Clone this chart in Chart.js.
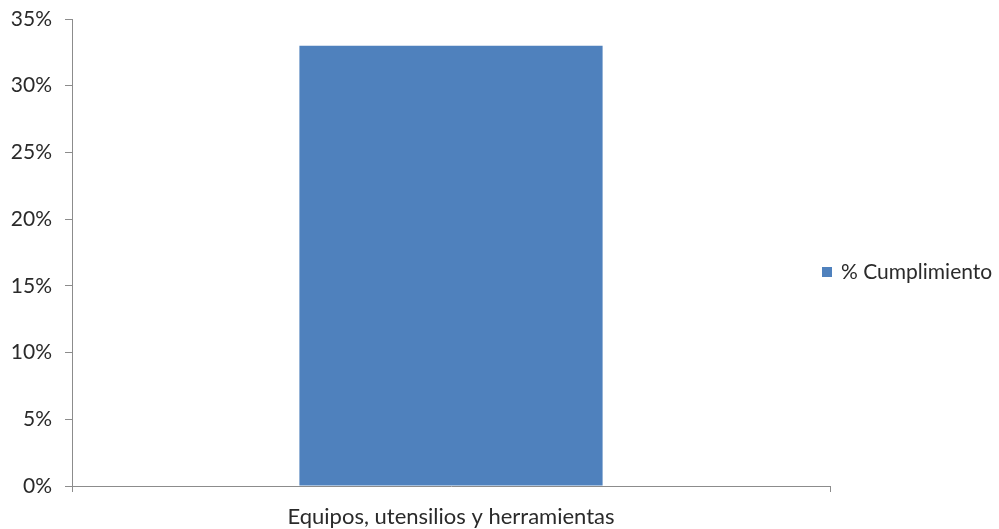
<!DOCTYPE html>
<html>
<head>
<meta charset="utf-8">
<script src="https://cdn.jsdelivr.net/npm/chart.js@4"></script>
<style>
    html, body { margin: 0; padding: 0; background: #ffffff; }
    #wrap { width: 999px; height: 529px; }
</style>
</head>
<body>
<div id="wrap"><canvas id="chart" width="999" height="529"></canvas></div>
<script>
// ======================================================
// Data
// ======================================================

const categories = ["Equipos, utensilios y herramientas"];

const seriesName = "% Cumplimiento";

const complianceValues = [33];

const yTicks = [0, 5, 10, 15, 20, 25, 30, 35];

// ======================================================
// Style
// ======================================================

const barColor = "#4F81BD";
const axisColor = "#8c8c8c";
const textColor = "#2a2a2a";
const fontFamily = "Lato, 'Open Sans', sans-serif";
const fontSize = 21;

// ======================================================
// Legend drawn to the right of the plot
// ======================================================

const sideLegend = {
    id: "sideLegend",
    afterDraw(chart) {
        const ctx = chart.ctx;
        const ds = chart.data.datasets[0];
        const x = chart.chartArea.right - 8;
        const y = 272;

        ctx.save();
        ctx.fillStyle = ds.backgroundColor;
        ctx.fillRect(x, y - 5, 10, 10);

        ctx.fillStyle = textColor;
        ctx.font = `${fontSize}px ${fontFamily}`;
        ctx.textAlign = "left";
        ctx.textBaseline = "middle";
        ctx.fillText(ds.label, x + 19, y);
        ctx.restore();
    }
};

// ======================================================
// Chart
// ======================================================

new Chart(document.getElementById("chart"), {
    type: "bar",

    data: {
        labels: categories,
        datasets: [{
            label: seriesName,
            data: complianceValues,
            backgroundColor: barColor,
            borderWidth: 0,
            categoryPercentage: 1,
            barPercentage: 0.4
        }]
    },

    options: {
        responsive: false,
        animation: false,
        layout: {
            padding: { left: 0, right: 169, top: 19, bottom: 0 }
        },
        plugins: {
            legend: { display: false },
            tooltip: { enabled: false }
        },
        scales: {
            x: {
                offset: true,
                grid: {
                    offset: true,
                    drawOnChartArea: false,
                    color: axisColor,
                    tickLength: 6
                },
                border: { color: axisColor, width: 1 },
                ticks: {
                    color: textColor,
                    padding: 12,
                    font: { family: fontFamily, size: 22 }
                },
                afterFit(scale) {
                    scale.height = 43;
                    scale.paddingLeft = 0;
                    scale.paddingRight = 0;
                }
            },
            y: {
                min: 0,
                max: 35,
                afterBuildTicks(scale) {
                    scale.ticks = yTicks.map(v => ({ value: v }));
                },
                grid: {
                    drawOnChartArea: false,
                    color: axisColor,
                    tickLength: 7
                },
                border: { color: axisColor, width: 1 },
                ticks: {
                    color: textColor,
                    padding: 13,
                    font: { family: fontFamily, size: fontSize },
                    callback: v => v + "%"
                },
                afterFit(scale) {
                    scale.width = 72;
                    scale.paddingTop = 0;
                    scale.paddingBottom = 0;
                }
            }
        }
    },

    plugins: [sideLegend]
});
</script>
</body>
</html>
